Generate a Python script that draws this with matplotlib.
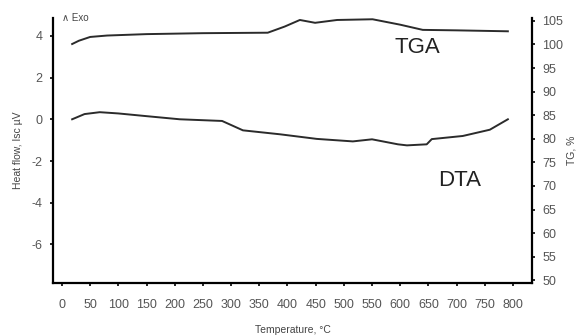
import matplotlib
matplotlib.use("Agg")
import matplotlib.pyplot as plt

plt.rcParams["font.family"] = ["Liberation Sans", "DejaVu Sans"]
plt.rcParams["axes.unicode_minus"] = False

# TGA trace (right axis, TG %)
tga_temp = [18, 30, 50, 80, 150, 250, 365, 395, 422, 449, 488, 551, 600, 640, 700, 791]
tga_val = [100.1, 100.8, 101.6, 101.9, 102.2, 102.4, 102.5, 103.8, 105.2, 104.6,
           105.2, 105.35, 104.2, 103.1, 103.0, 102.8]

# DTA trace (left axis, heat flow)
dta_temp = [18, 40, 67, 100, 150, 209, 284, 321, 387, 452, 516, 550, 596, 612,
            647, 656, 711, 759, 791]
dta_val = [0.0, 0.25, 0.34, 0.28, 0.15, 0.0, -0.08, -0.53, -0.72, -0.94, -1.06,
           -0.96, -1.2, -1.25, -1.2, -0.95, -0.8, -0.5, 0.0]

x_ticks = list(range(0, 801, 50))
left_ticks = [-6, -4, -2, 0, 2, 4]
right_ticks = list(range(50, 106, 5))

LINE = "#2b2b2b"
TICKC = "#555555"

fig = plt.figure(figsize=(5.79, 3.35), dpi=100)
ax = fig.add_axes([0.0915, 0.155, 0.8275, 0.791])
ax2 = ax.twinx()

ax.plot(dta_temp, dta_val, color=LINE, lw=1.4)
ax2.plot(tga_temp, tga_val, color=LINE, lw=1.4)

ax.set_xlim(-16, 834)
ax.set_ylim(-7.85, 4.85)
ax2.set_ylim(49.4, 105.6)

ax.set_xticks(x_ticks)
ax.set_yticks(left_ticks)
ax2.set_yticks(right_ticks)

for a in (ax, ax2):
    a.spines["top"].set_visible(False)
    for s in a.spines.values():
        s.set_linewidth(1.6)
        s.set_color("black")
    a.tick_params(direction="out", length=2.5, width=1.2, labelsize=9,
                  labelcolor=TICKC, pad=5)
ax.tick_params(axis="x", pad=9)
ax.spines["right"].set_visible(False)
ax2.spines["left"].set_visible(False)
ax2.spines["bottom"].set_visible(False)

ax.set_xlabel("Temperature, °C", fontsize=7.5, color="#444444", labelpad=10)
ax.set_ylabel("Heat flow, Isc µV", fontsize=7.5, color="#444444", labelpad=6)
ax2.set_ylabel("TG, %", fontsize=7.5, color="#444444", labelpad=2, rotation=90)

fig.text(0.107, 0.945, "∧ Exo", fontsize=7, color="#444444", va="center")
fig.text(0.682, 0.857, "TGA", fontsize=16, color="#222222", va="center")
fig.text(0.757, 0.462, "DTA", fontsize=16, color="#222222", va="center")

fig.savefig("out.png", dpi=100, facecolor="white")
